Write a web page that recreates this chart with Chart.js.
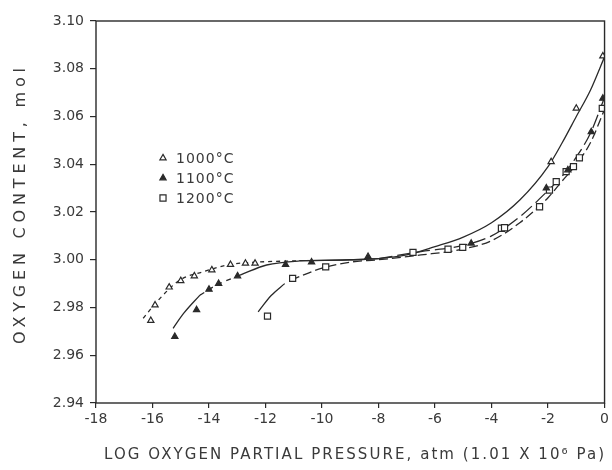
<!DOCTYPE html>
<html>
<head>
<meta charset="utf-8">
<script src="https://cdn.jsdelivr.net/npm/chart.js@4/dist/chart.umd.min.js"></script>
<style>
  html, body { margin: 0; padding: 0; background: #fff; }
  canvas { display: block; }
</style>
</head>
<body>
<canvas id="chart" width="612" height="470"></canvas>
<script>
// measured points (log pO2, oxygen content)
var t1000X = [-16.06, -15.91, -15.41, -15.00, -14.52, -13.90, -13.24, -12.71, -12.37, -1.89, -1.00, -0.06];
var t1000Y = [2.9745, 2.9810, 2.9885, 2.9912, 2.9932, 2.9957, 2.9980, 2.9985, 2.9985, 3.0410, 3.0634, 3.0853];

var t1100X = [-15.21, -14.44, -14.00, -13.66, -12.99, -11.29, -10.37, -8.37, -4.72, -2.06, -1.30, -0.47, -0.06];
var t1100Y = [2.9678, 2.9790, 2.9876, 2.9900, 2.9932, 2.9980, 2.9990, 3.0013, 3.0069, 3.0300, 3.0376, 3.0536, 3.0676];

var s1200X = [-11.93, -11.04, -9.87, -6.78, -5.54, -5.02, -3.65, -3.54, -2.30, -1.95, -1.71, -1.36, -1.10, -0.89, -0.08];
var s1200Y = [2.9764, 2.9922, 2.9970, 3.0031, 3.0044, 3.0052, 3.0132, 3.0134, 3.0222, 3.0292, 3.0327, 3.0369, 3.0390, 3.0427, 3.0634];

// hand-drawn fit curves
var c1000aX = [-16.33, -15.80, -15.03, -14.20, -13.26, -12.30, -10.80];
var c1000aY = [2.9755, 2.9830, 2.9915, 2.9950, 2.9980, 2.9990, 2.9996];
var c1000bX = [-10.80, -8.00, -7.00, -6.00, -5.00, -4.00, -3.00, -2.00, -1.50, -1.00, -0.50, 0.00];
var c1000bY = [2.9996, 3.0005, 3.0020, 3.0055, 3.0095, 3.0155, 3.0250, 3.0390, 3.0490, 3.0600, 3.0710, 3.0850];

var c1100aX = [-15.27, -14.90, -14.32];
var c1100aY = [2.9713, 2.9775, 2.9852];
var c1100bX = [-14.32, -13.73, -12.90];
var c1100bY = [2.9852, 2.9894, 2.9936];
var c1100cX = [-12.90, -11.96, -10.80, -9.00, -8.00];
var c1100cY = [2.9936, 2.9978, 2.9995, 3.0000, 3.0005];
var c1100dX = [-8.00, -6.50, -5.00, -4.00, -3.00, -2.00, -1.50, -1.00, -0.50, 0.00];
var c1100dY = [3.0005, 3.0034, 3.0060, 3.0100, 3.0180, 3.0290, 3.0350, 3.0430, 3.0530, 3.0680];

var c1200aX = [-12.26, -11.80, -11.32];
var c1200aY = [2.9782, 2.9850, 2.9900];
var c1200bX = [-11.10, -10.00, -9.00, -8.00, -6.50, -5.00, -4.00, -3.00, -2.00, -1.50, -1.00, -0.50, 0.00];
var c1200bY = [2.9915, 2.9965, 2.9990, 3.0000, 3.0020, 3.0045, 3.0080, 3.0155, 3.0260, 3.0330, 3.0400, 3.0490, 3.0630];

var xTicks = [-18, -16, -14, -12, -10, -8, -6, -4, -2, 0];
var yTicks = [2.94, 2.96, 2.98, 3.00, 3.02, 3.04, 3.06, 3.08, 3.10];
var legendLabels = ['1000\u00b0C', '1100\u00b0C', '1200\u00b0C'];
var xTitle = 'LOG OXYGEN PARTIAL PRESSURE, atm (1.01 X 10\u2076 Pa)';
var yTitle = 'OXYGEN CONTENT, mol';

var ink = '#2a2a2a';
var textInk = '#3a3a3a';
var fontName = '"DejaVu Sans", sans-serif';

function pts(xs, ys) {
    return xs.map(function(x, i) { return {x: x, y: ys[i]}; });
}

function markers(xs, ys, style, fill, r) {
    return {
        type: 'scatter',
        data: pts(xs, ys),
        pointStyle: style,
        pointRadius: r,
        pointBackgroundColor: fill,
        pointBorderColor: ink,
        pointBorderWidth: 1.2,
        showLine: false
    };
}

function curve(xs, ys, dash) {
    return {
        type: 'line',
        data: pts(xs, ys),
        borderColor: ink,
        borderWidth: 1.3,
        borderDash: dash,
        pointRadius: 0,
        fill: false,
        cubicInterpolationMode: 'monotone'
    };
}

// frame, axis titles and the inset legend
var decor = {
    id: 'decor',
    afterDraw: function(chart) {
        var ctx = chart.ctx;
        var a = chart.chartArea;
        ctx.save();
        ctx.strokeStyle = ink;
        ctx.lineWidth = 1.4;
        ctx.strokeRect(a.left, a.top, a.right - a.left, a.bottom - a.top);

        ctx.fillStyle = textInk;
        ctx.textBaseline = 'middle';
        ctx.textAlign = 'left';

        function spaced(text, target) {
            ctx.letterSpacing = '0px';
            var w = ctx.measureText(text).width;
            ctx.letterSpacing = ((target - w) / (text.length - 1)) + 'px';
        }

        ctx.font = '15px ' + fontName;
        spaced(xTitle, 500);
        ctx.fillText(xTitle, 104, 455);

        ctx.save();
        ctx.translate(21, 344);
        ctx.rotate(-Math.PI / 2);
        ctx.font = '16px ' + fontName;
        spaced(yTitle, 276);
        ctx.fillText(yTitle, 0, 0);
        ctx.restore();

        // legend
        ctx.letterSpacing = '1px';
        ctx.font = '14px ' + fontName;
        var lx = a.left + 67, ly = a.top + 137;
        var styles = [['triangle', '#fff', 3.6], ['triangle', ink, 3.6], ['rect', '#fff', 4.3]];
        for (var i = 0; i < legendLabels.length; i++) {
            var y = ly + i * 20;
            ctx.lineWidth = 1.2;
            ctx.strokeStyle = ink;
            ctx.fillStyle = styles[i][1];
            Chart.helpers.drawPoint(ctx, {pointStyle: styles[i][0], radius: styles[i][2], borderWidth: 1.2, rotation: 0}, lx, y);
            ctx.fillStyle = textInk;
            ctx.fillText(legendLabels[i], lx + 13, y + 1);
        }
        ctx.restore();
    }
};

var tickFont = {family: fontName, size: 14};

new Chart(document.getElementById('chart'), {
    type: 'scatter',
    data: {
        datasets: [
            markers(t1000X, t1000Y, 'triangle', '#fff', 3.6),
            markers(t1100X, t1100Y, 'triangle', ink, 3.6),
            markers(s1200X, s1200Y, 'rect', '#fff', 4.3),
            curve(c1000aX, c1000aY, [4, 4]),
            curve(c1000bX, c1000bY, []),
            curve(c1100aX, c1100aY, []),
            curve(c1100bX, c1100bY, [5, 5]),
            curve(c1100cX, c1100cY, []),
            curve(c1100dX, c1100dY, [14, 5]),
            curve(c1200aX, c1200aY, []),
            curve(c1200bX, c1200bY, [9, 4])
        ]
    },
    options: {
        responsive: false,
        animation: false,
        devicePixelRatio: 1,
        layout: {padding: {top: 21, right: 7, left: 0, bottom: 0}},
        plugins: {legend: {display: false}, tooltip: {enabled: false}},
        scales: {
            x: {
                type: 'linear',
                min: -18,
                max: 0,
                afterBuildTicks: function(scale) {
                    scale.ticks = xTicks.map(function(v) { return {value: v}; });
                },
                ticks: {font: tickFont, color: textInk, padding: 3, maxRotation: 0,
                        callback: function(v) { return String(v); }},
                grid: {drawOnChartArea: false, tickLength: 5, color: ink, lineWidth: 1.2},
                border: {display: false},
                afterFit: function(scale) { scale.height = 67; }
            },
            y: {
                min: 2.94,
                max: 3.10,
                afterBuildTicks: function(scale) {
                    scale.ticks = yTicks.map(function(v) { return {value: v}; });
                },
                ticks: {font: tickFont, color: textInk, padding: 6,
                        callback: function(v) { return v.toFixed(2); }},
                grid: {drawOnChartArea: false, tickLength: 6, color: ink, lineWidth: 1.2},
                border: {display: false},
                afterFit: function(scale) { scale.width = 96; }
            }
        }
    },
    plugins: [decor]
});
</script>
</body>
</html>
